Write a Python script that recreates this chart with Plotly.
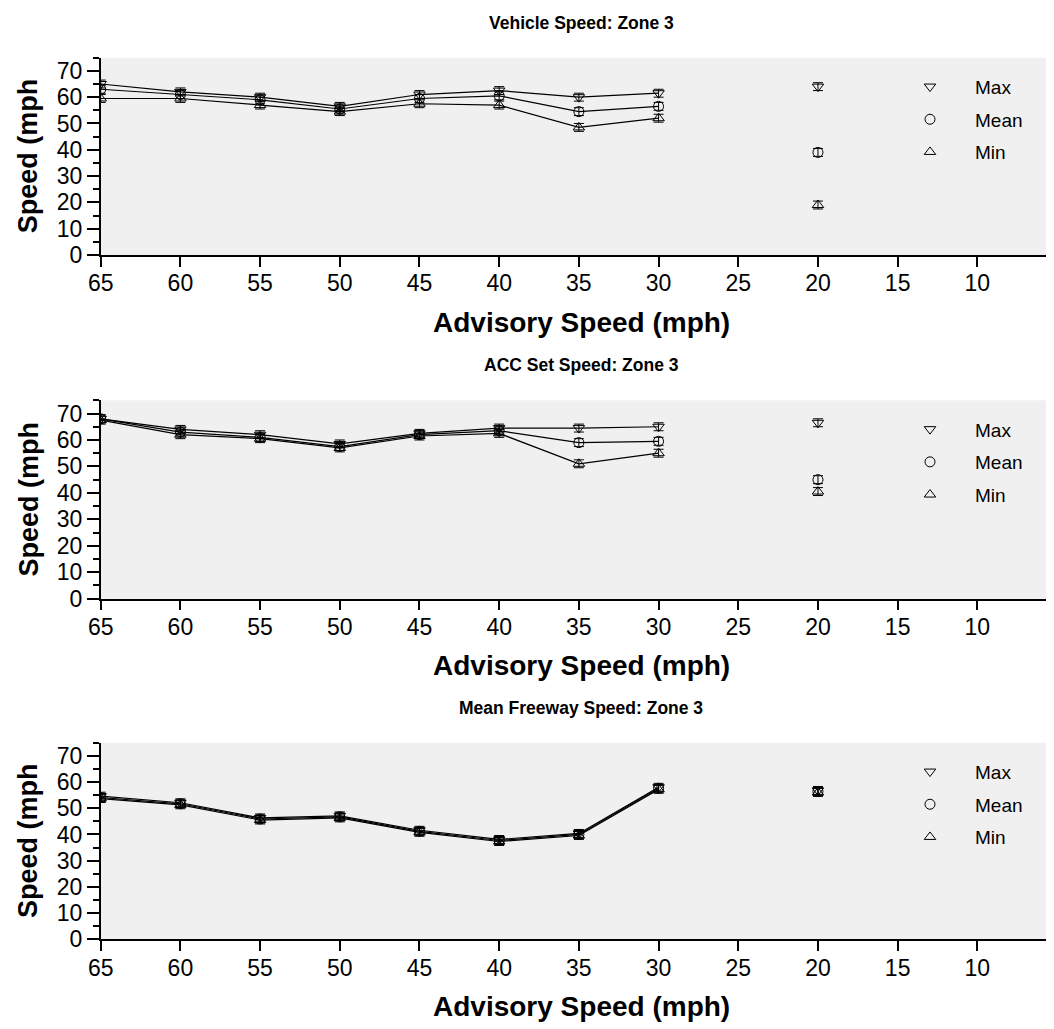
import plotly.graph_objects as go

# ---------------- data ----------------
advisory = [65, 60, 55, 50, 45, 40, 35, 30, 20]
x_ticks = [65, 60, 55, 50, 45, 40, 35, 30, 25, 20, 15, 10]
y_ticks = [0, 10, 20, 30, 40, 50, 60, 70]

vehicle_max = [65.0, 62.0, 60.0, 56.5, 61.0, 62.5, 60.0, 61.5, 64.0]
vehicle_mean = [63.0, 61.0, 59.0, 55.5, 59.5, 60.5, 54.5, 56.5, 39.0]
vehicle_min = [59.5, 59.5, 57.0, 54.5, 57.5, 57.0, 48.5, 52.0, 19.0]

acc_max = [68.0, 64.0, 62.0, 58.5, 62.5, 64.5, 64.5, 65.0, 66.5]
acc_mean = [68.0, 63.0, 61.0, 57.5, 62.0, 63.5, 59.0, 59.5, 45.0]
acc_min = [67.5, 62.0, 60.5, 57.0, 61.5, 62.5, 51.0, 55.0, 40.5]

fwy_max = [54.6, 52.1, 46.3, 47.1, 41.6, 38.1, 40.4, 58.0, 56.8]
fwy_mean = [54.1, 51.7, 45.9, 46.7, 41.2, 37.7, 40.0, 57.6, 56.4]
fwy_min = [53.7, 51.3, 45.5, 46.3, 40.8, 37.3, 39.6, 57.2, 56.0]

err = [1.5, 1.5, 1.5, 1.5, 1.5, 1.5, 1.5, 1.5, 1.5]

series_names = ["Max", "Mean", "Min"]
panel_titles = ["Vehicle Speed: Zone 3", "ACC Set Speed: Zone 3", "Mean Freeway Speed: Zone 3"]
x_title = "Advisory Speed (mph)"
y_title = "Speed (mph"

panels = [
    [vehicle_max, vehicle_mean, vehicle_min],
    [acc_max, acc_mean, acc_min],
    [fwy_max, fwy_mean, fwy_min],
]

# ---------------- layout geometry (pixels) ----------------
W, H = 1054, 1029
plot_left = 92.7
plot_tops = [49.7, 392.3, 734.7]
plot_bottoms = [247.0, 590.7, 931.3]

symbols = ["triangle-down-open", "circle-open", "triangle-up-open"]
FONT = "Liberation Sans, Arial, sans-serif"

fig = go.Figure()

for p, data in enumerate(panels):
    xa = "x" if p == 0 else f"x{p+1}"
    ya = "y" if p == 0 else f"y{p+1}"
    lg = "legend" if p == 0 else f"legend{p+1}"
    for s, vals in enumerate(data):
        n = len(advisory) - 1
        fig.add_trace(go.Scatter(
            x=advisory[:n], y=vals[:n], xaxis=xa, yaxis=ya,
            mode="lines+markers", showlegend=False,
            line=dict(color="black", width=1.2),
            marker=dict(symbol=symbols[s], size=10, color="black", line=dict(width=1, color="black")),
            error_y=dict(type="data", array=err[:n], color="black", thickness=1, width=5),
            name=series_names[s], hoverinfo="x+y+name",
        ))
        fig.add_trace(go.Scatter(
            x=advisory[n:], y=vals[n:], xaxis=xa, yaxis=ya,
            mode="markers", showlegend=True, legend=lg,
            legendgroup=f"p{p}s{s}",
            marker=dict(symbol=symbols[s], size=10, color="black", line=dict(width=1, color="black")),
            error_y=dict(type="data", array=err[n:], color="black", thickness=1, width=5),
            name=series_names[s],
        ))

layout = dict(
    width=W, height=H,
    margin=dict(l=0, r=0, t=0, b=0, autoexpand=False),
    paper_bgcolor="white",
    plot_bgcolor="#f0f0f0",
    font=dict(family=FONT, color="black", size=20),
    annotations=[],
)

for p in range(3):
    xk = "xaxis" if p == 0 else f"xaxis{p+1}"
    yk = "yaxis" if p == 0 else f"yaxis{p+1}"
    ya = "y" if p == 0 else f"y{p+1}"
    xa = "x" if p == 0 else f"x{p+1}"
    y0 = 1 - plot_bottoms[p] / H
    y1 = 1 - plot_tops[p] / H
    layout[xk] = dict(
        domain=[plot_left / W, 1], anchor=ya, range=[65, 4.69],
        tickmode="array", tickvals=x_ticks, ticktext=[str(v) for v in x_ticks],
        ticks="outside", ticklen=10, tickwidth=1.5, tickcolor="black",
        showline=True, linecolor="black", linewidth=1.5,
        showgrid=False, zeroline=False, automargin=False,
        tickfont=dict(size=23, family=FONT), ticklabelstandoff=-3,
    )
    layout[yk] = dict(
        domain=[y0, y1], anchor=xa, range=[0, 75],
        tickmode="array", tickvals=y_ticks,
        ticks="outside", ticklen=12, tickwidth=1.5, tickcolor="black",
        minor=dict(ticks="outside", ticklen=6, tickwidth=1.5, tickcolor="black", dtick=5, showgrid=False),
        showline=True, linecolor="black", linewidth=1.5,
        showgrid=False, zeroline=False, automargin=False,
        tickfont=dict(size=23, family=FONT), ticklabelstandoff=0,
    )
    lk = "legend" if p == 0 else f"legend{p+1}"
    layout[lk] = dict(
        x=877 / W, xanchor="left",
        y=1 - (plot_tops[p] + 10) / H, yanchor="top",
        bgcolor="rgba(0,0,0,0)", borderwidth=0,
        font=dict(size=19, family=FONT), itemwidth=80,
        tracegroupgap=5,
    )
    layout["annotations"].append(dict(
        text=f"<b>{panel_titles[p]}</b>", xref="paper", yref="paper",
        x=(plot_left + W) / 2 / W, y=1 - (plot_tops[p] - 35) / H,
        xanchor="center", yanchor="middle", showarrow=False,
        font=dict(size=17.5, family=FONT),
    ))
    layout["annotations"].append(dict(
        text=f"<b>{x_title}</b>", xref="paper", yref="paper",
        x=(plot_left + W) / 2 / W, y=1 - (plot_bottoms[p] + 67) / H,
        xanchor="center", yanchor="middle", showarrow=False,
        font=dict(size=28, family=FONT),
    ))
    layout["annotations"].append(dict(
        text=f"<b>{y_title}</b>", xref="paper", yref="paper",
        x=20 / W, y=1 - (plot_tops[p] + plot_bottoms[p]) / 2 / H,
        xanchor="center", yanchor="middle", showarrow=False, textangle=-90,
        font=dict(size=27, family=FONT),
    ))

fig.update_layout(**layout)
fig.write_html("out.html")
